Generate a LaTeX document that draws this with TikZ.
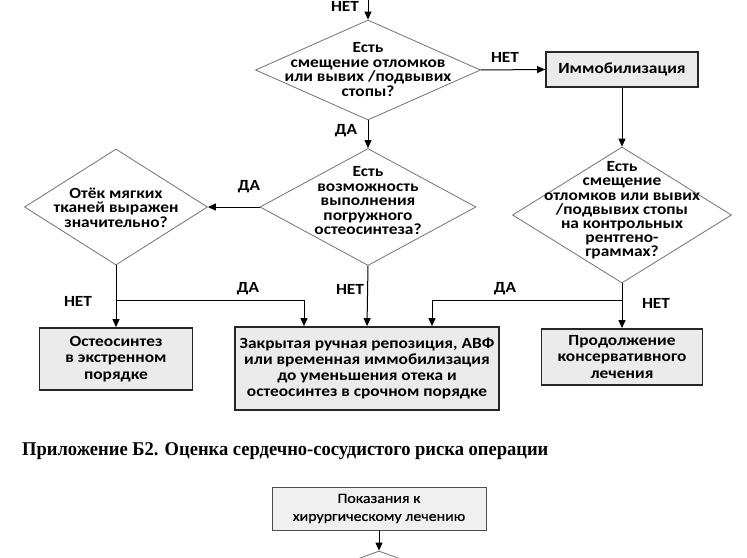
\documentclass[tikz,border=0pt]{standalone}
\usepackage{fontspec}
\setmainfont{Carlito}[FakeStretch=1.12]
\newfontfamily\titlefont{Liberation Serif}[FakeStretch=0.95]
\usetikzlibrary{shapes.geometric,arrows.meta}
\tikzset{
  dia/.style={diamond, draw=black!55, line width=0.8pt, inner sep=0pt},
  dtext/.style={align=center, inner sep=0pt, font=\bfseries\fontsize{15.5}{14.5}\selectfont},
  pbox/.style={rectangle, draw=black!85, line width=1.8pt, fill=black!8, align=center, inner sep=0pt,
               font=\bfseries\fontsize{15.5}{16.2}\selectfont},
  ibox/.style={rectangle, draw=black!70, line width=0.9pt, fill=black!6, align=center, inner sep=0pt,
               font=\fontsize{14.2}{18}\selectfont\addfontfeature{FakeBold=0.6}},
  arr/.style={-{Triangle[length=8pt,width=7pt]}, line width=1pt},
  lbl/.style={inner sep=0pt, font=\bfseries\fontsize{15.5}{14}\selectfont}
}
\begin{document}
\begin{tikzpicture}[x=1pt,y=-1pt]
\clip (0,0) rectangle (747,557);
\fill[white] (0,0) rectangle (747,557);
% diamonds
\node[dia, minimum width=225pt, minimum height=100pt] (d1) at (368,70) {};
\node[dtext] (t1) at (368,69.5) {Есть\\смещение отломков\\или вывих /подвывих\\стопы?};
\node[dia, minimum width=216pt, minimum height=117pt] (d2) at (368,207) {};
\node[dtext] (t2) at (368,201) {Есть\\возможность\\выполнения\\погружного\\остеосинтеза?};
\node[dia, minimum width=183pt, minimum height=116pt] (d4) at (116,207) {};
\node[dtext] (t4) at (116,207.5) {Отёк мягких\\тканей выражен\\значительно?};
\node[dia, minimum width=219pt, minimum height=136pt] (d3) at (622,215) {};
\node[dtext, font=\bfseries\fontsize{15.5}{14.2}\selectfont] (t3) at (622,210.5) {Есть\\смещение\\отломков или вывих\\/подвывих стопы\\на контрольных\\рентгено-\\граммах?};
\node[dia, minimum width=220pt, minimum height=80pt] (d5) at (379,591) {};
% boxes
\node[pbox, minimum width=152pt, minimum height=35pt] (bimm) at (622,69.5) {Иммобилизация};
\node[pbox, minimum width=153pt, minimum height=62pt] (bos) at (116,359) {Остеосинтез\\в экстренном\\порядке};
\node[pbox, minimum width=264pt, minimum height=83pt] (bmid) at (367,368.5) {Закрытая ручная репозиция, АВФ\\или временная иммобилизация\\до уменьшения отека и\\остеосинтез в срочном порядке};
\node[pbox, minimum width=161pt, minimum height=56pt] (bprod) at (622,357) {Продолжение\\консервативного\\лечения};
\node[ibox, minimum width=214pt, minimum height=43pt] (bind) at (379,508.5) {Показания к\\хирургическому лечению};
% title
\node[anchor=west, inner sep=0pt, font=\titlefont\bfseries\fontsize{19.5}{20}\selectfont] (title) at (22,451) {Приложение Б2. Оценка сердечно-сосудистого риска операции};
% connectors
\coordinate (top) at (368,0);
\coordinate (j1) at (116,300);
\coordinate (j2) at (622,300);
\draw[arr] (top) -- (d1.north);
\draw[arr] (d1.east) -- (bimm.west);
\draw[arr] (d1.south) -- (d2.north);
\draw[arr] (bimm.south) -- (d3.north);
\draw[arr] (d2.west) -- (d4.east);
\draw[arr] (d4.south) -- (bos.north);
\draw[arr] (j1) -| ([xshift=-63pt]bmid.north);
\draw[arr] (d2.south) -- (bmid.north);
\draw[arr] (d3.south) -- (bprod.north);
\draw[arr] (j2) -| ([xshift=65pt]bmid.north);
\draw[arr] (bind.south) -- (d5.north);
% labels
\node[lbl, anchor=base] (l1) at (345,11) {НЕТ};
\node[lbl] (l2) at (505,57) {НЕТ};
\node[lbl] (l3) at (346,131) {ДА};
\node[lbl] (l4) at (249,187) {ДА};
\node[lbl] (l5) at (248,289) {ДА};
\node[lbl] (l6) at (78,301) {НЕТ};
\node[lbl] (l7) at (350,289) {НЕТ};
\node[lbl] (l8) at (505,289) {ДА};
\node[lbl] (l9) at (656,303) {НЕТ};
\end{tikzpicture}
\end{document}
